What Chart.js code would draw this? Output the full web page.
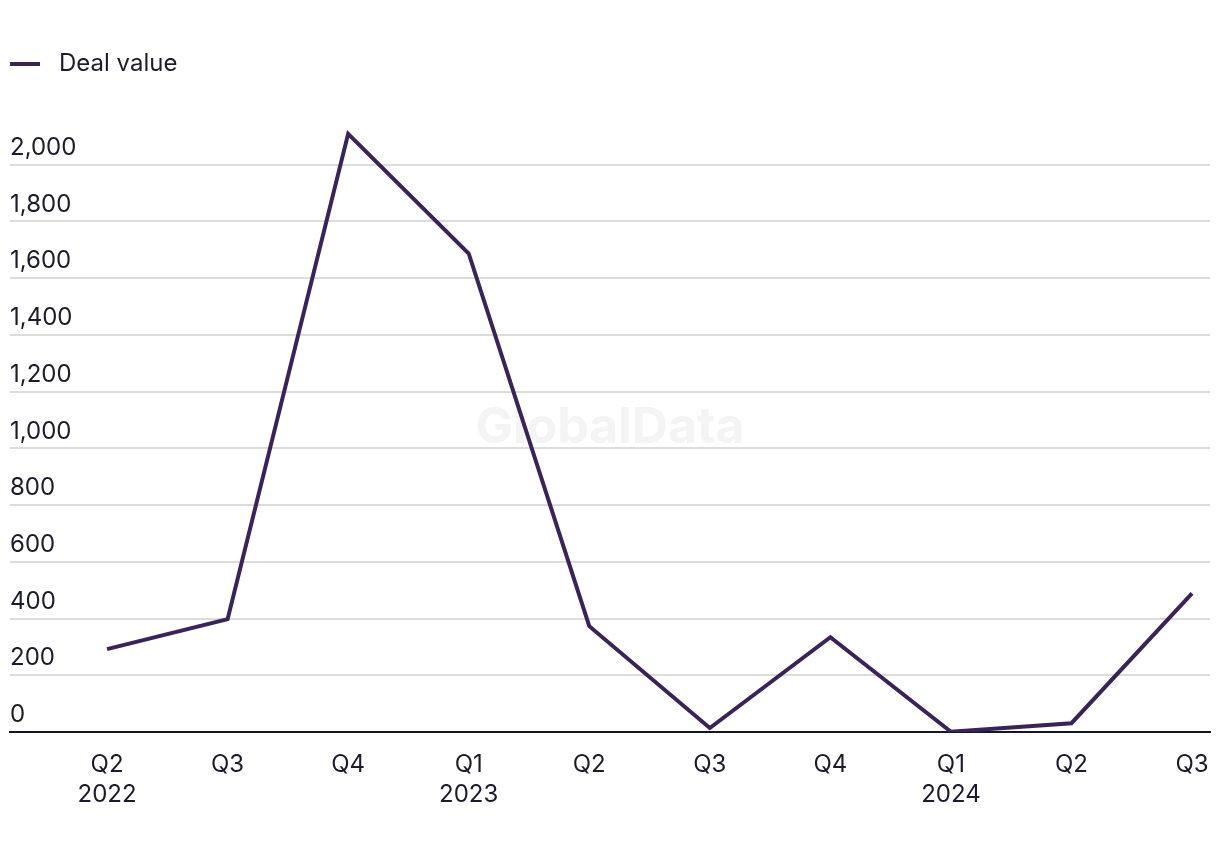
<!DOCTYPE html>
<html>
<head>
<meta charset="utf-8">
<script src="https://cdn.jsdelivr.net/npm/chart.js@4"></script>
<style>
  html, body { margin: 0; padding: 0; background: #fff; }
  #wrap { width: 1220px; height: 854px; }
</style>
</head>
<body>
<div id="wrap"><canvas id="dealChart"></canvas></div>
<script>
// Chart data
const quarters = ["Q2", "Q3", "Q4", "Q1", "Q2", "Q3", "Q4", "Q1", "Q2", "Q3"];
const years = ["2022", "", "", "2023", "", "", "", "2024", "", ""];
const dealValues = [292, 398, 2109, 1687, 373, 14, 334, 1, 31, 489];
const yTicks = [0, 200, 400, 600, 800, 1000, 1200, 1400, 1600, 1800, 2000];

const textColor = "#1c1b2e";
const lineColor = "#3a2358";

// legend marker: a 30px line inside a 37px box so the text sits further right
const legendMark = document.createElement("canvas");
legendMark.width = 37;
legendMark.height = 4;
const mctx = legendMark.getContext("2d");
mctx.fillStyle = lineColor;
mctx.fillRect(0, 0, 30, 4);

// faint watermark behind the line
const watermark = {
  id: "watermark",
  beforeDatasetsDraw(chart) {
    const { ctx } = chart;
    ctx.save();
    ctx.font = "bold 50px Inter, sans-serif";
    ctx.fillStyle = "#f4f4f4";
    ctx.textAlign = "center";
    ctx.textBaseline = "middle";
    ctx.fillText("GlobalData", 610, 428);
    ctx.restore();
  }
};

// extra gap under the legend
const legendGap = {
  id: "legendGap",
  beforeInit(chart) {
    const origFit = chart.legend.fit;
    chart.legend.fit = function () {
      origFit.bind(chart.legend)();
      this.height += 22;
    };
  }
};

const ctx = document.getElementById("dealChart").getContext("2d");
new Chart(ctx, {
  type: "line",
  data: {
    datasets: [{
      label: "Deal value",
      data: dealValues.map((v, i) => ({ x: i, y: v })),
      borderColor: lineColor,
      backgroundColor: lineColor,
      borderWidth: 4,
      pointRadius: 0,
      tension: 0
    }]
  },
  options: {
    responsive: true,
    maintainAspectRatio: false,
    animation: false,
    layout: { padding: { left: 10, right: 10, top: 52, bottom: 26 } },
    plugins: {
      legend: {
        position: "top",
        align: "start",
        labels: {
          usePointStyle: true,
          pointStyle: legendMark,
          pointStyleWidth: 37,
          color: textColor,
          font: { family: "Inter, sans-serif", size: 24 },
          padding: 0
        }
      },
      tooltip: { enabled: false }
    },
    scales: {
      x: {
        type: "linear",
        min: -0.805,
        max: 9.149,
        afterBuildTicks: axis => { axis.ticks = quarters.map((q, i) => ({ value: i })); },
        // labels fit inside the range, so no extra edge padding
        afterFit: axis => { axis.paddingLeft = 0; axis.paddingRight = 0; },
        grid: { display: false, drawTicks: false },
        border: { display: true, color: "#14142b", width: 2 },
        ticks: {
          padding: 18,
          color: textColor,
          font: { family: "Inter, sans-serif", size: 24, lineHeight: 1.25 },
          maxRotation: 0,
          autoSkip: false,
          callback: v => years[v] ? [quarters[v], years[v]] : quarters[v]
        }
      },
      y: {
        min: 0,
        max: 2200,
        afterBuildTicks: axis => { axis.ticks = yTicks.map(v => ({ value: v })); },
        grid: { color: "#dcdcdc", lineWidth: 2, drawTicks: false },
        border: { display: false },
        ticks: {
          mirror: true,
          padding: 0,
          labelOffset: -17,
          color: textColor,
          font: { family: "Inter, sans-serif", size: 24 },
          callback: v => v.toLocaleString("en-US")
        }
      }
    }
  },
  plugins: [watermark, legendGap]
});
</script>
</body>
</html>
